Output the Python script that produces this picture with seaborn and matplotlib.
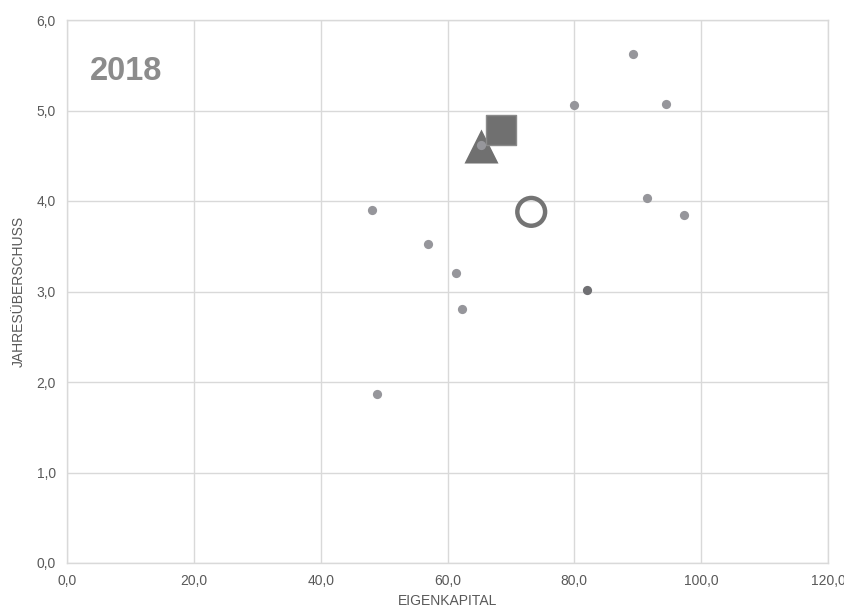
import matplotlib
matplotlib.use("Agg")
import matplotlib.pyplot as plt
import seaborn as sns
import pandas as pd

# Data
eigenkapital = [89.3, 80.0, 94.5, 65.3, 48.1, 91.5, 97.3, 56.9, 61.4, 62.3, 48.9]
jahresueberschuss = [5.62, 5.06, 5.07, 4.62, 3.90, 4.03, 3.85, 3.52, 3.20, 2.81, 1.87]
dark_x = [82.0]
dark_y = [3.02]
square_x, square_y = [68.5], [4.78]
triangle_x, triangle_y = [65.3], [4.61]
circle_x, circle_y = [73.2], [3.88]
x_ticks = [0, 20, 40, 60, 80, 100, 120]
y_ticks = [0, 1, 2, 3, 4, 5, 6]
title_text = "2018"

sns.set_theme(style="white")
plt.rcParams['font.family'] = ['Liberation Sans', 'DejaVu Sans']

fig = plt.figure(figsize=(8.44, 6.12), dpi=100)
ax = fig.add_axes([67/844, 1-563/612, (828-67)/844, (563-20)/612])

df = pd.DataFrame({"x": eigenkapital, "y": jahresueberschuss})
dfd = pd.DataFrame({"x": dark_x, "y": dark_y})

sns.scatterplot(x=triangle_x, y=triangle_y, marker="^", s=600, color="#707070",
                edgecolor="#707070", linewidth=0, ax=ax, zorder=3)
sns.scatterplot(x=square_x, y=square_y, marker="s", s=490, color="#707070",
                edgecolor="#8a8a8a", linewidth=1, ax=ax, zorder=3)
sns.scatterplot(data=df, x="x", y="y", s=44, color="#96969b", linewidth=0, ax=ax, zorder=4)
sns.scatterplot(data=dfd, x="x", y="y", s=44, color="#707073", linewidth=0, ax=ax, zorder=4)
ax.scatter(circle_x, circle_y, marker="o", s=400, facecolors="none",
           edgecolors="#747474", linewidths=3.2, zorder=3)

ax.set_xlim(0, 120)
ax.set_ylim(0, 6)
ax.set_xticks(x_ticks)
ax.set_yticks(y_ticks)
ax.set_xticklabels([f"{v:.1f}".replace(".", ",") for v in x_ticks])
ax.set_yticklabels([f"{v:.1f}".replace(".", ",") for v in y_ticks])
ax.tick_params(axis="both", labelsize=10, colors="#595959", length=0, pad=8)
ax.grid(True, color="#d9d9d9", linewidth=1)
for side, sp in ax.spines.items():
    sp.set_visible(True)
    sp.set_color("#d9d9d9")
    sp.set_linewidth(1)
ax.set_xlabel("EIGENKAPITAL", fontsize=10, color="#595959", labelpad=4)
ax.set_ylabel("JAHRESÜBERSCHUSS", fontsize=10, color="#595959", labelpad=8)
ax.text(0.030, 0.905, title_text, transform=ax.transAxes, fontsize=23.5,
        fontweight="bold", color="#8c8c8c", va="center", ha="left")

fig.savefig("out.png", dpi=100)
